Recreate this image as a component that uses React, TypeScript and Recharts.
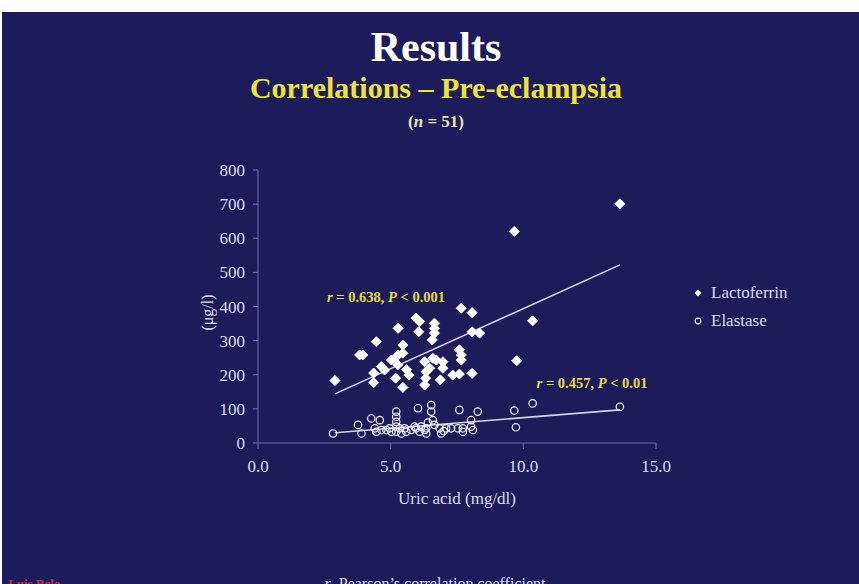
import React from 'react';
import { ScatterChart, Scatter, XAxis, YAxis, ReferenceLine, Legend } from 'recharts';

const NAVY = '#1e1b5b';
const FONT = '"Liberation Serif", "Times New Roman", serif';
const AXIS = '#6e6ea6';
const TICK_TEXT = '#dcdcea';
const YELLOW = '#ece43c';

const lactoferrinX = [2.9, 3.83, 3.95, 4.46, 4.36, 4.36, 4.65, 4.77, 5.03, 5.15, 5.28, 5.46, 5.46, 5.28, 5.19, 5.27, 5.46, 5.69, 5.96, 6.09, 6.06, 6.28, 6.34, 6.4, 6.47, 6.32, 6.28, 6.57, 6.65, 6.65, 6.65, 6.59, 6.72, 6.87, 6.97, 6.97, 7.34, 7.59, 7.59, 7.66, 7.66, 7.66, 8.07, 8.07, 8.07, 8.35, 10.35, 9.75, 9.66, 13.64, 5.6];
const lactoferrinY = [183, 258, 258, 297, 205, 177, 224, 214, 243, 248, 258, 263, 287, 336, 190, 229, 163, 199, 366, 356, 326, 238, 209, 214, 219, 190, 170, 302, 351, 336, 322, 248, 243, 185, 238, 219, 199, 202, 273, 258, 243, 395, 382, 204, 326, 322, 358, 241, 620, 701, 215];

const elastaseX = [2.83, 3.77, 3.9, 4.27, 4.59, 4.4, 4.46, 4.65, 4.84, 4.96, 5.03, 5.21, 5.21, 5.21, 5.21, 5.21, 5.34, 5.4, 5.53, 5.59, 5.77, 5.9, 6.03, 6.09, 6.15, 6.28, 6.34, 6.34, 6.53, 6.53, 6.59, 6.65, 6.84, 6.9, 7.09, 7.28, 7.53, 7.59, 7.72, 7.72, 8.03, 8.03, 8.28, 9.66, 9.72, 10.35, 13.64, 5.96, 6.4, 7.0, 8.1];
const elastaseY = [28, 53, 28, 72, 67, 43, 33, 38, 38, 43, 33, 92, 77, 62, 48, 33, 43, 28, 43, 33, 38, 48, 102, 33, 48, 38, 43, 28, 111, 92, 67, 53, 43, 28, 43, 43, 43, 97, 43, 33, 48, 67, 92, 95, 46, 116, 106, 43, 60, 35, 38];

const lactoferrinFit = [{ x: 2.9, y: 144 }, { x: 13.64, y: 522 }];
const elastaseFit = [{ x: 2.9, y: 30 }, { x: 13.64, y: 97 }];

const xTicks = [0, 5, 10, 15];
const yTicks = [0, 100, 200, 300, 400, 500, 600, 700, 800];

const lactoferrinData = lactoferrinX.map((x, i) => ({ x, y: lactoferrinY[i] }));
const elastaseData = elastaseX.map((x, i) => ({ x, y: elastaseY[i] }));

const Diamond = (props: any) => {
  const { cx, cy } = props;
  const r = 5;
  return (
    <path
      d={`M${cx},${cy - r}L${cx + r},${cy}L${cx},${cy + r}L${cx - r},${cy}Z`}
      fill="#ffffff"
      stroke="#ffffff"
      strokeWidth={1}
      strokeLinejoin="round"
    />
  );
};

const Ring = (props: any) => {
  const { cx, cy } = props;
  return <circle cx={cx} cy={cy} r={3.7} fill="none" stroke="#eeeef8" strokeWidth={1.2} />;
};

const LegendContent = () => (
  <div style={{ fontFamily: FONT, fontSize: 17, color: TICK_TEXT }}>
    <div style={{ display: 'flex', alignItems: 'center', height: 28 }}>
      <svg width={16} height={16}>
        <path d="M8,4.5L11.5,8L8,11.5L4.5,8Z" fill="#fff" />
      </svg>
      <span style={{ marginLeft: 5 }}>Lactoferrin</span>
    </div>
    <div style={{ display: 'flex', alignItems: 'center', height: 28 }}>
      <svg width={16} height={16}>
        <circle cx={8} cy={8} r={2.8} fill="none" stroke="#eee" strokeWidth={1.2} />
      </svg>
      <span style={{ marginLeft: 5 }}>Elastase</span>
    </div>
  </div>
);

const YLabel = (props: any) => {
  const vb = props.viewBox || {};
  const cx = vb.x + 9;
  const cy = vb.y + vb.height / 2 + 6;
  return (
    <text
      x={cx}
      y={cy}
      transform={`rotate(-90 ${cx} ${cy})`}
      textAnchor="middle"
      dominantBaseline="central"
      fill={TICK_TEXT}
      fontSize={16}
      fontFamily={FONT}
    >
      (μg/l)
    </text>
  );
};

const XLabel = (props: any) => {
  const vb = props.viewBox || {};
  return (
    <text
      x={vb.x + vb.width / 2}
      y={504}
      textAnchor="middle"
      fill={TICK_TEXT}
      fontSize={17}
      fontFamily={FONT}
    >
      Uric acid (mg/dl)
    </text>
  );
};

export default function App() {
  return (
    <div style={{ position: 'relative', width: 859, height: 584, background: '#ffffff', overflow: 'hidden' }}>
      <style>{'body{margin:0}'}</style>
      <div style={{ position: 'absolute', left: 2, top: 12, width: 857, height: 572, background: NAVY }} />
      <div style={{ position: 'absolute', left: 0, top: 0 }}>
        <ScatterChart width={859} height={584} margin={{ top: 170, right: 203, bottom: 111, left: 198 }}>
          <XAxis
            type="number"
            dataKey="x"
            domain={[0, 15]}
            ticks={xTicks}
            tickFormatter={(v: number) => v.toFixed(1)}
            stroke={AXIS}
            tickSize={6}
            tickMargin={11}
            height={30}
            tick={{ fill: TICK_TEXT, fontSize: 17, fontFamily: FONT }}
            label={<XLabel />}
          />
          <YAxis
            type="number"
            dataKey="y"
            domain={[0, 800]}
            ticks={yTicks}
            stroke={AXIS}
            tickSize={5}
            tickMargin={8}
            width={60}
            tick={{ fill: TICK_TEXT, fontSize: 17, fontFamily: FONT }}
            label={<YLabel />}
          />
          <ReferenceLine segment={lactoferrinFit} stroke="#d4d4e6" strokeWidth={1.6} ifOverflow="visible" />
          <ReferenceLine segment={elastaseFit} stroke="#d4d4e6" strokeWidth={1.6} ifOverflow="visible" />
          <Scatter name="Elastase" data={elastaseData} shape={<Ring />} isAnimationActive={false} />
          <Scatter name="Lactoferrin" data={lactoferrinData} shape={<Diamond />} isAnimationActive={false} />
          <Legend
            layout="horizontal"
            verticalAlign="middle"
            align="center"
            wrapperStyle={{ left: 690, top: 279, width: 130, right: 'auto', bottom: 'auto' }}
            content={<LegendContent />}
          />
        </ScatterChart>
      </div>
      <svg
        width={859}
        height={584}
        style={{ position: 'absolute', left: 0, top: 0, pointerEvents: 'none' }}
        fontFamily={FONT}
      >
        <text x={436} y={61} textAnchor="middle" fill="#ffffff" fontSize={42} fontWeight="bold">
          Results
        </text>
        <text x={436} y={98} textAnchor="middle" fill={YELLOW} fontSize={30} fontWeight="bold">
          Correlations – Pre-eclampsia
        </text>
        <text x={436} y={127} textAnchor="middle" fill="#e8e4b0" fontSize={17} fontWeight="bold">
          (<tspan fontStyle="italic">n</tspan> = 51)
        </text>
        <text x={386} y={302} textAnchor="middle" fill="#e2da48" fontSize={14.5} fontWeight="bold">
          <tspan fontStyle="italic">r</tspan> = 0.638, <tspan fontStyle="italic">P</tspan> &lt; 0.001
        </text>
        <text x={592} y={388} textAnchor="middle" fill="#e2da48" fontSize={14.5} fontWeight="bold">
          <tspan fontStyle="italic">r</tspan> = 0.457, <tspan fontStyle="italic">P</tspan> &lt; 0.01
        </text>
        <text x={8} y={588} fill="#d0283e" fontSize={13} fontWeight="bold">
          Luis Belo
        </text>
        <text x={437} y={589} textAnchor="middle" fill={TICK_TEXT} fontSize={16}>
          <tspan fontStyle="italic">r</tspan>, Pearson’s correlation coefficient.
        </text>
      </svg>
    </div>
  );
}
